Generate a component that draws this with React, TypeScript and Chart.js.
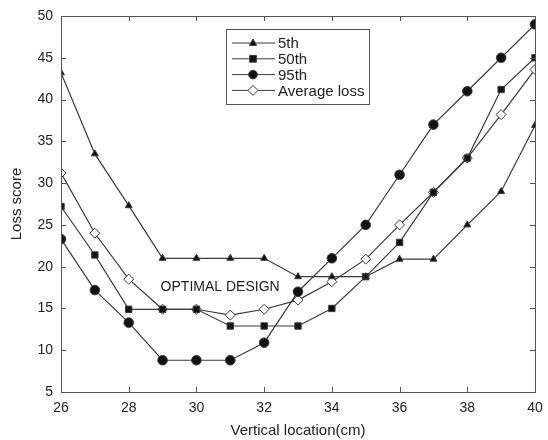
import React, { useEffect, useRef } from "react";
import { Chart, registerables } from "chart.js";
Chart.register(...registerables);

const locations = [26, 27, 28, 29, 30, 31, 32, 33, 34, 35, 36, 37, 38, 39, 40];
const p5 = [43.2, 33.5, 27.3, 21, 21, 21, 21, 18.8, 18.8, 18.8, 20.9, 20.9, 25, 29, 36.9];
const p50 = [27.2, 21.4, 14.9, 14.9, 14.9, 12.9, 12.9, 12.9, 15, 18.8, 22.9, 28.9, 33, 41.2, 45];
const p95 = [23.3, 17.2, 13.3, 8.8, 8.8, 8.8, 10.9, 17, 21, 25, 31, 37, 41, 45, 49];
const avgLoss = [31.2, 24, 18.5, 14.9, 14.9, 14.2, 14.9, 16, 18.2, 20.9, 25, 28.9, 33, 38.2, 43.6];
const seriesNames = ["5th", "50th", "95th", "Average loss"];
const xTicks = [26, 28, 30, 32, 34, 36, 38, 40];
const yTicks = [5, 10, 15, 20, 25, 30, 35, 40, 45, 50];
const annotationText = "OPTIMAL DESIGN";
const annotationPos = { x: 30.7, y: 17.6 };

const FONT = "Liberation Sans, Arial, sans-serif";
const LINE = "#3a3a3a";

const boxTicksPlugin = {
  id: "boxTicks",
  afterDraw(chart: any) {
    const { ctx, chartArea: a, scales } = chart;
    const xs = scales.x, ys = scales.y;
    ctx.save();
    ctx.strokeStyle = "#555";
    ctx.lineWidth = 1;
    ctx.strokeRect(a.left + 0.5, a.top + 0.5, a.right - a.left, a.bottom - a.top);
    const L = 5;
    ctx.beginPath();
    xTicks.forEach((t) => {
      const px = Math.round(xs.getPixelForValue(t)) + 0.5;
      ctx.moveTo(px, a.bottom); ctx.lineTo(px, a.bottom - L);
      ctx.moveTo(px, a.top); ctx.lineTo(px, a.top + L);
    });
    yTicks.forEach((t) => {
      const py = Math.round(ys.getPixelForValue(t)) + 0.5;
      ctx.moveTo(a.left, py); ctx.lineTo(a.left + L, py);
      ctx.moveTo(a.right, py); ctx.lineTo(a.right - L, py);
    });
    ctx.stroke();

    // annotation
    ctx.fillStyle = "#222";
    ctx.font = `14px ${FONT}`;
    ctx.textAlign = "center";
    ctx.textBaseline = "middle";
    ctx.fillText(annotationText, xs.getPixelForValue(annotationPos.x), ys.getPixelForValue(annotationPos.y));

    // legend
    const lx = a.left + 165, ly = a.top + 13, lw = 143, lh = 75;
    ctx.fillStyle = "#fff";
    ctx.fillRect(lx, ly, lw, lh);
    ctx.strokeStyle = "#555";
    ctx.strokeRect(lx + 0.5, ly + 0.5, lw, lh);
    ctx.font = `15px ${FONT}`;
    ctx.textAlign = "left";
    chart.data.datasets.forEach((ds: any, i: number) => {
      const yy = ly + 14 + i * 15.8;
      ctx.strokeStyle = LINE;
      ctx.beginPath();
      ctx.moveTo(lx + 6, yy); ctx.lineTo(lx + 49, yy);
      ctx.stroke();
      const r = ds.pointRadius;
      ctx.fillStyle = ds.pointBackgroundColor;
      ctx.strokeStyle = LINE;
      ctx.beginPath();
      const cx = lx + 27;
      if (ds.pointStyle === "triangle") {
        ctx.moveTo(cx, yy - r); ctx.lineTo(cx + r * 0.9, yy + r * 0.6); ctx.lineTo(cx - r * 0.9, yy + r * 0.6); ctx.closePath();
      } else if (ds.pointStyle === "rect") {
        ctx.rect(cx - r * 0.75, yy - r * 0.75, r * 1.5, r * 1.5);
      } else if (ds.pointStyle === "circle") {
        ctx.arc(cx, yy, r * 0.9, 0, Math.PI * 2);
      } else {
        ctx.moveTo(cx, yy - r); ctx.lineTo(cx + r, yy); ctx.lineTo(cx, yy + r); ctx.lineTo(cx - r, yy); ctx.closePath();
      }
      ctx.fill();
      ctx.stroke();
      ctx.fillStyle = "#222";
      ctx.fillText(ds.label, lx + 52, yy + 1);
    });
    ctx.restore();
  },
};

export default function App() {
  const ref = useRef<HTMLCanvasElement>(null);
  useEffect(() => {
    if (!ref.current) return;
    const mk = (label: string, data: number[], style: string, r: number, fill: string) => ({
      label,
      data: locations.map((x, i) => ({ x, y: data[i] })),
      borderColor: LINE,
      borderWidth: 1.2,
      pointStyle: style,
      pointRadius: r,
      pointBackgroundColor: fill,
      pointBorderColor: LINE,
      pointBorderWidth: 1,
      tension: 0,
    });
    const chart = new Chart(ref.current, {
      type: "line",
      data: {
        datasets: [
          mk(seriesNames[0], p5, "triangle", 4, "#111"),
          mk(seriesNames[1], p50, "rect", 4.5, "#111"),
          mk(seriesNames[2], p95, "circle", 4.8, "#111"),
          mk(seriesNames[3], avgLoss, "rectRot", 5, "#fff"),
        ],
      },
      options: {
        responsive: false,
        animation: false,
        layout: { padding: { top: 16, right: 13, left: 0, bottom: 0 } },
        plugins: { legend: { display: false }, tooltip: { enabled: false } },
        scales: {
          x: {
            type: "linear",
            min: 26,
            max: 40,
            afterBuildTicks: (s: any) => { s.ticks = xTicks.map((v) => ({ value: v })); },
            afterFit: (s: any) => { s.height = 48; s.paddingLeft = 0; s.paddingRight = 0; },
            grid: { display: false, drawTicks: false },
            border: { display: false },
            ticks: { color: "#222", font: { family: FONT, size: 14 }, padding: 8, maxRotation: 0 },
            title: { display: true, text: "Vertical location(cm)", color: "#222", font: { family: FONT, size: 15 }, padding: { top: 2, bottom: 0 } },
          },
          y: {
            type: "linear",
            min: 5,
            max: 50,
            afterBuildTicks: (s: any) => { s.ticks = yTicks.map((v) => ({ value: v })); },
            afterFit: (s: any) => { s.width = 61; s.paddingTop = 0; s.paddingBottom = 0; },
            grid: { display: false, drawTicks: false },
            border: { display: false },
            ticks: { color: "#222", font: { family: FONT, size: 14 }, padding: 8 },
            title: { display: true, text: "Loss score", color: "#222", font: { family: FONT, size: 15 }, padding: { top: 8, bottom: 4 } },
          },
        },
      },
      plugins: [boxTicksPlugin],
    } as any);
    return () => chart.destroy();
  }, []);
  return (
    <div style={{ position: "absolute", left: 0, top: 0, width: 548, height: 440, background: "#fff" }}>
      <canvas ref={ref} width={548} height={440} style={{ width: 548, height: 440, display: "block" }} />
    </div>
  );
}
